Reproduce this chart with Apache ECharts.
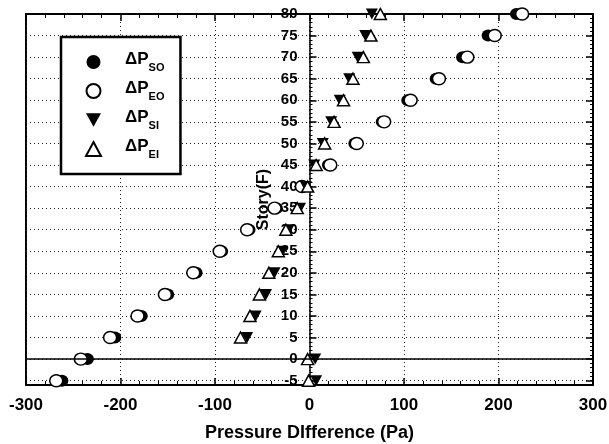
<!DOCTYPE html>
<html>
<head>
<meta charset="utf-8">
<script src="https://cdn.jsdelivr.net/npm/echarts@6/dist/echarts.min.js"></script>
<style>
  html, body { margin: 0; padding: 0; background: #fff; }
  #chart { width: 609px; height: 444px; }
</style>
</head>
<body>
<div id="chart"></div>
<script>
// story levels and pressure differences (Pa)
var stories = [80, 75, 70, 65, 60, 55, 50, 45, 40, 35, 30, 25, 20, 15, 10, 5, 0, -5];
var pSO = [219, 189, 162, 134, 104, 77, 48, 20, -7, -35, -64, -93, -120, -150, -178, -206, -235, -262];
var pEO = [225, 196, 167, 137, 107, 79, 50, 22, -8, -37, -66, -95, -123, -153, -182, -211, -242, -268];
var pSI = [66, 59, 51, 42, 32, 23, 14, 5, -4, -10, -22, -29, -37, -46, -57, -66, 6, 7];
var pEI = [75, 65, 57, 46, 36, 26, 16, 7, -2, -13, -25, -33, -43, -53, -63, -73, -2, -1];
var yTicks = [-5, 0, 5, 10, 15, 20, 25, 30, 35, 40, 45, 50, 55, 60, 65, 70, 75, 80];
var legendSub = { SO: 'SO', EO: 'EO', SI: 'SI', EI: 'EI' };

var FONT = 'Liberation Sans';
var chart = echarts.init(document.getElementById('chart'));

function pts(xs) {
  return stories.map(function (s, i) { return [xs[i], s]; });
}

var dotted = { show: true, lineStyle: { color: '#222', width: 1, type: [1, 3] } };
var openStyle = { color: '#fff', borderColor: '#000', borderWidth: 1.5, opacity: 1 };
var solidStyle = { color: '#000', opacity: 1 };
var downTri = 'path://M0,0L10,0L5,9Z';
var majorTick = { inside: true, length: 7, lineStyle: { color: '#000', width: 1.5 } };
var minorTickLine = { inside: true, length: 3, lineStyle: { color: '#000', width: 1 } };

// main frame 26..593 px, so x = 0 sits at 309.5 px; second grid starts there to carry the story axis
var option = {
  animation: false,
  backgroundColor: '#fff',
  grid: [
    { left: 26, right: 16, top: 14, bottom: 59, show: true, borderColor: '#000', borderWidth: 2, outerBoundsMode: 'none', containLabel: false },
    { left: 309.5, right: 16, top: 14, bottom: 59, outerBoundsMode: 'none', containLabel: false }
  ],
  legend: {
    orient: 'vertical',
    left: 61, top: 37,
    padding: [14, 16, 14, 24],
    itemGap: 7,
    itemWidth: 15, itemHeight: 14,
    backgroundColor: '#fff',
    borderColor: '#000', borderWidth: 2.5,
    data: [
      { name: 'SO' },
      { name: 'EO' },
      { name: 'SI', icon: downTri },
      { name: 'EI' }
    ],
    formatter: function (name) { return '{a|ΔP}{b|' + legendSub[name] + '}'; },
    textStyle: {
      rich: {
        a: { fontFamily: FONT, fontWeight: 'bold', fontSize: 17, color: '#000', lineHeight: 22, verticalAlign: 'top', padding: [0, 0, 0, 19] },
        b: { fontFamily: FONT, fontWeight: 'bold', fontSize: 11, color: '#000', lineHeight: 22, verticalAlign: 'bottom' }
      }
    }
  },
  xAxis: [
    {
      gridIndex: 0, type: 'value', position: 'bottom', min: -300, max: 300, interval: 100,
      axisLine: { onZero: false, lineStyle: { color: '#000', width: 2 } },
      axisTick: majorTick,
      minorTick: { show: true, splitNumber: 5, length: 4, lineStyle: { color: '#000', width: 1 } },
      axisLabel: { color: '#000', fontFamily: FONT, fontWeight: 'bold', fontSize: 17, margin: 12 },
      splitLine: dotted,
      name: 'Pressure DIfference (Pa)', nameLocation: 'middle', nameGap: 39,
      nameTextStyle: { color: '#000', fontFamily: FONT, fontWeight: 'bold', fontSize: 18 }
    },
    {
      gridIndex: 0, type: 'value', position: 'top', min: -300, max: 300, interval: 100,
      axisLine: { onZero: false, lineStyle: { color: '#000', width: 2 } },
      axisTick: majorTick,
      minorTick: { show: true, splitNumber: 5, length: 4, lineStyle: { color: '#000', width: 1 } },
      axisLabel: { show: false },
      splitLine: { show: false }
    },
    {
      gridIndex: 1, type: 'value', min: 0, max: 300, show: false
    }
  ],
  yAxis: [
    { // data axis of the main frame
      gridIndex: 0, type: 'value', position: 'left', min: -6, max: 80,
      axisLine: { show: false, onZero: false }, axisTick: { show: false },
      axisLabel: { show: false }, splitLine: { show: false }
    },
    { // right border: major ticks + horizontal dotted grid
      gridIndex: 0, type: 'value', position: 'right', min: -6, max: 80,
      axisLine: { onZero: false, lineStyle: { color: '#000', width: 2 } },
      axisTick: { inside: true, length: 7, customValues: yTicks, lineStyle: { color: '#000', width: 1.5 } },
      axisLabel: { show: false },
      splitLine: dotted
    },
    { // right border: minor ticks
      gridIndex: 0, type: 'value', position: 'right', min: -6, max: 80, interval: 1,
      axisLine: { show: false, onZero: false },
      axisTick: minorTickLine,
      axisLabel: { show: false }, splitLine: { show: false }
    },
    { // story axis drawn at x = 0
      gridIndex: 1, type: 'value', position: 'left', min: -6, max: 80,
      axisLine: { onZero: false, lineStyle: { color: '#000', width: 1.5 } },
      axisTick: { inside: true, length: 7, customValues: yTicks, lineStyle: { color: '#000', width: 1.5 } },
      axisLabel: { customValues: yTicks, color: '#000', fontFamily: FONT, fontWeight: 'bold', fontSize: 15, margin: 12 },
      splitLine: { show: false },
      name: 'Story(F)', nameLocation: 'middle', nameRotate: 90, nameGap: 38,
      nameTextStyle: { color: '#000', fontFamily: FONT, fontWeight: 'bold', fontSize: 16 }
    },
    {
      gridIndex: 1, type: 'value', position: 'left', min: -6, max: 80, interval: 1,
      axisLine: { show: false, onZero: false },
      axisTick: minorTickLine,
      axisLabel: { show: false }, splitLine: { show: false }
    }
  ],
  series: [
    {
      name: 'SO', type: 'scatter', xAxisIndex: 0, yAxisIndex: 0, data: pts(pSO),
      symbol: 'circle', symbolSize: [13, 12],
      itemStyle: solidStyle,
      markLine: {
        silent: true, symbol: 'none', label: { show: false },
        lineStyle: { color: '#000', width: 1.5, type: 'solid', opacity: 1 },
        data: [{ yAxis: 0 }]
      }
    },
    {
      name: 'EO', type: 'scatter', xAxisIndex: 0, yAxisIndex: 0, data: pts(pEO),
      symbol: 'circle', symbolSize: [13, 12],
      itemStyle: openStyle
    },
    {
      name: 'SI', type: 'scatter', xAxisIndex: 0, yAxisIndex: 0, data: pts(pSI),
      symbol: downTri, symbolSize: [12, 11],
      itemStyle: solidStyle
    },
    {
      name: 'EI', type: 'scatter', xAxisIndex: 0, yAxisIndex: 0, data: pts(pEI),
      symbol: 'triangle', symbolSize: [12, 11],
      itemStyle: openStyle
    }
  ]
};

chart.setOption(option);
</script>
</body>
</html>
